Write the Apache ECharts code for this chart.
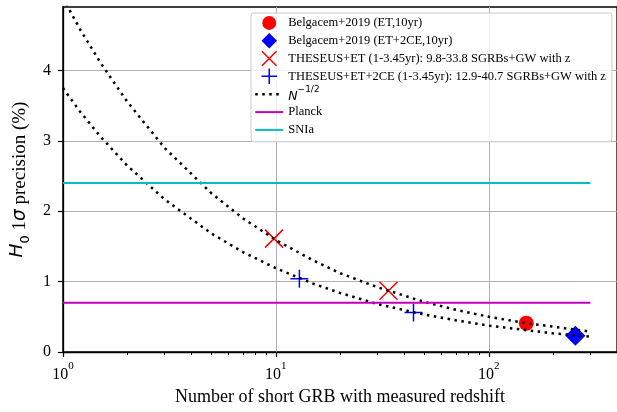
<!DOCTYPE html>
<html>
<head>
<meta charset="utf-8">
<script src="https://cdn.jsdelivr.net/npm/echarts@6/dist/echarts.min.js"></script>
<style>html,body{margin:0;padding:0;background:#fff}#c{width:617px;height:412px}</style>
</head>
<body>
<div id="c"></div>
<script>
// ---- data ----
const belgacemET = [[150, 0.41]];
const belgacemET2CE = [[255, 0.23]];
const theseusET = [[9.8, 1.61], [33.8, 0.87]];
const theseusET2CE = [[12.9, 1.04], [44.3, 0.56]];
const curveN = [1, 1.2, 1.5, 2, 3, 5, 7, 10, 15, 20, 30, 50, 70, 100, 150, 200, 300];
const curveUpper = [5.03, 4.59, 4.11, 3.56, 2.90, 2.25, 1.90, 1.59, 1.30, 1.12, 0.92, 0.71, 0.60, 0.50, 0.41, 0.36, 0.29];
const curveLower = [3.75, 3.42, 3.06, 2.65, 2.17, 1.68, 1.42, 1.19, 0.97, 0.84, 0.68, 0.53, 0.45, 0.375, 0.31, 0.265, 0.22];
const hLineX = [1, 300];
const planckY = 0.7;
const sniaY = 2.4;
const yTicks = [0, 1, 2, 3, 4];
const xMajorTicks = [1, 10, 100];
const xMinorTicks = [2, 3, 4, 5, 6, 7, 8, 9, 20, 30, 40, 50, 60, 70, 80, 90, 200, 300];
const names = {
  b1: 'Belgacem+2019 (ET,10yr)',
  b2: 'Belgacem+2019 (ET+2CE,10yr)',
  t1: 'THESEUS+ET (1-3.45yr): 9.8-33.8 SGRBs+GW with z',
  t2: 'THESEUS+ET+2CE (1-3.45yr): 12.9-40.7 SGRBs+GW with z',
  n: 'N^{-1/2}',
  p: 'Planck',
  s: 'SNIa'
};

const serif = 'Liberation Serif';
const sans = 'DejaVu Sans';
const pair = (xs, ys) => xs.map((x, i) => [x, ys[i]]);

const chart = echarts.init(document.getElementById('c'), null, {renderer: 'canvas'});
const T = 'rgba(0,0,0,0)';
const M = 'M0,0 M16,16 ';
const L = 'path://M0,0 M28,15.5 M0,7.75 L28,7.75';
const option = {
  animation: false,
  backgroundColor: '#fff',
  grid: {left: 56, right: -5, top: 7, bottom: 60, show: true, borderColor: '#000', borderWidth: 1.3, backgroundColor: 'transparent'},
  legend: {
    orient: 'vertical', left: 251, top: 13,
    padding: [1, 6, 3, 3],
    itemWidth: 28, itemHeight: 15.5, itemGap: 0.001,
    backgroundColor: 'rgba(255,255,255,0.8)', borderColor: '#cccccc', borderWidth: 1, borderRadius: 3,
    symbolKeepAspect: true,
    selectedMode: false,
    textStyle: {
      fontFamily: serif, fontSize: 12.5, color: '#000', lineHeight: 17.8,
      rich: {
        n: {fontFamily: sans, fontStyle: 'italic', fontSize: 12.5, color: '#000', lineHeight: 17.8, verticalAlign: 'bottom'},
        s: {fontFamily: sans, fontSize: 9, color: '#000', lineHeight: 17.8, verticalAlign: 'top'}
      }
    },
    formatter: function (name) { return name === names.n ? '{n|N}{s|\u22121/2}' : name; },
    data: [
      {name: names.b1, icon: 'path://' + M + 'M0.8,8 A7.2,7.2 0 1 1 15.2,8 A7.2,7.2 0 1 1 0.8,8 Z', itemStyle: {color: '#ff0000', borderWidth: 0}},
      {name: names.b2, icon: 'path://' + M + 'M8,0 L16,8 L8,16 L0,8 Z', itemStyle: {color: '#0000ff', borderWidth: 0}},
      {name: names.t1, icon: 'path://' + M + 'M0.5,0.5 L15.5,15.5 M15.5,0.5 L0.5,15.5', itemStyle: {color: T, borderColor: '#ff0000', borderWidth: 1.5}},
      {name: names.t2, icon: 'path://' + M + 'M8,0 L8,16 M0,8 L16,8', itemStyle: {color: T, borderColor: '#0000ff', borderWidth: 1.5}},
      {name: names.n, icon: L, itemStyle: {color: T, borderColor: '#000', borderWidth: 2.5, borderType: [2.5, 4.5]}},
      {name: names.p, icon: L, itemStyle: {color: T, borderColor: '#bf00bf', borderWidth: 2}},
      {name: names.s, icon: L, itemStyle: {color: T, borderColor: '#00bfbf', borderWidth: 2}}
    ]
  },
  xAxis: [{
    type: 'log', logBase: 10, min: 1, max: 400,
    name: 'Number of short GRB with measured redshift',
    nameLocation: 'middle', nameGap: 36,
    nameTextStyle: {fontFamily: serif, fontSize: 18, color: '#000'},
    axisLine: {show: true, onZero: false, lineStyle: {color: '#000', width: 1.3}},
    axisTick: {show: true, length: 5, lineStyle: {color: '#000', width: 1.2}, customValues: xMajorTicks},
    axisLabel: {
      margin: 9, color: '#000', customValues: xMajorTicks,
      formatter: function (v) {
        const e = Math.round(Math.log10(v));
        if (Math.abs(Math.pow(10, e) - v) > 1e-6 * v) return '';
        return '{b|10}{s|' + e + '}';
      },
      rich: {
        b: {fontFamily: serif, fontSize: 16, color: '#000', lineHeight: 22, verticalAlign: 'bottom'},
        s: {fontFamily: serif, fontSize: 11, color: '#000', lineHeight: 22, verticalAlign: 'top'}
      }
    },
    splitLine: {show: true, lineStyle: {color: '#b0b0b0', width: 1}},
    minorTick: {show: false}
  }, {
    type: 'log', logBase: 10, min: 1, max: 400, position: 'bottom', gridIndex: 0,
    axisLine: {show: false},
    axisTick: {show: true, length: 3, lineStyle: {color: '#000', width: 1}, customValues: xMinorTicks},
    axisLabel: {show: false},
    splitLine: {show: false}
  }],
  yAxis: {
    type: 'value', min: 0, max: 4.9, interval: 1,
    name: '{h|H}{sub|0}{t| 1}{sig|\u03c3}{t| precision (%)}',
    nameLocation: 'middle', nameGap: 25,
    nameTextStyle: {
      color: '#000',
      rich: {
        h: {fontFamily: sans, fontStyle: 'italic', fontSize: 18.5, color: '#000', lineHeight: 24, verticalAlign: 'top'},
        sub: {fontFamily: sans, fontSize: 13, color: '#000', lineHeight: 24, verticalAlign: 'bottom'},
        t: {fontFamily: serif, fontSize: 19, color: '#000', lineHeight: 24, verticalAlign: 'middle'},
        sig: {fontFamily: sans, fontStyle: 'italic', fontSize: 18.5, color: '#000', lineHeight: 24, verticalAlign: 'middle'}
      }
    },
    axisLine: {show: true, lineStyle: {color: '#000', width: 1.3}},
    axisTick: {show: true, length: 5, lineStyle: {color: '#000', width: 1.2}, customValues: yTicks},
    axisLabel: {margin: 12, fontFamily: serif, fontSize: 16, color: '#000', customValues: yTicks},
    splitLine: {show: true, lineStyle: {color: '#b0b0b0', width: 1}}
  },
  series: [
    {name: names.b1, type: 'scatter', data: belgacemET, symbol: 'circle', symbolSize: 15, itemStyle: {color: '#ff0000', opacity: 1}},
    {name: names.b2, type: 'scatter', data: belgacemET2CE, symbol: 'diamond', symbolSize: 20, itemStyle: {color: '#0000ff', opacity: 1}},
    {name: names.t1, type: 'scatter', data: theseusET, symbol: 'path://M0,0 L10,10 M10,0 L0,10', symbolSize: 18, symbolKeepAspect: true, itemStyle: {color: 'none', borderColor: '#ff0000', borderWidth: 1.5, opacity: 1}},
    {name: names.t2, type: 'scatter', data: theseusET2CE, symbol: 'path://M5,0 L5,10 M0,5 L10,5', symbolSize: 18, symbolKeepAspect: true, itemStyle: {color: 'none', borderColor: '#0000ff', borderWidth: 1.5, opacity: 1}},
    {name: names.n, type: 'line', data: pair(curveN, curveUpper), showSymbol: false, symbol: 'none', clip: true, lineStyle: {color: '#000', width: 2.5, type: [2.5, 4.5], cap: 'butt'}},
    {name: names.n, type: 'line', data: pair(curveN, curveLower), showSymbol: false, symbol: 'none', clip: true, lineStyle: {color: '#000', width: 2.5, type: [2.5, 4.5], cap: 'butt'}},
    {name: names.p, type: 'line', data: hLineX.map(x => [x, planckY]), showSymbol: false, symbol: 'none', lineStyle: {color: '#bf00bf', width: 2}},
    {name: names.s, type: 'line', data: hLineX.map(x => [x, sniaY]), showSymbol: false, symbol: 'none', lineStyle: {color: '#00bfbf', width: 2}}
  ]
};
chart.setOption(option);
</script>
</body>
</html>
